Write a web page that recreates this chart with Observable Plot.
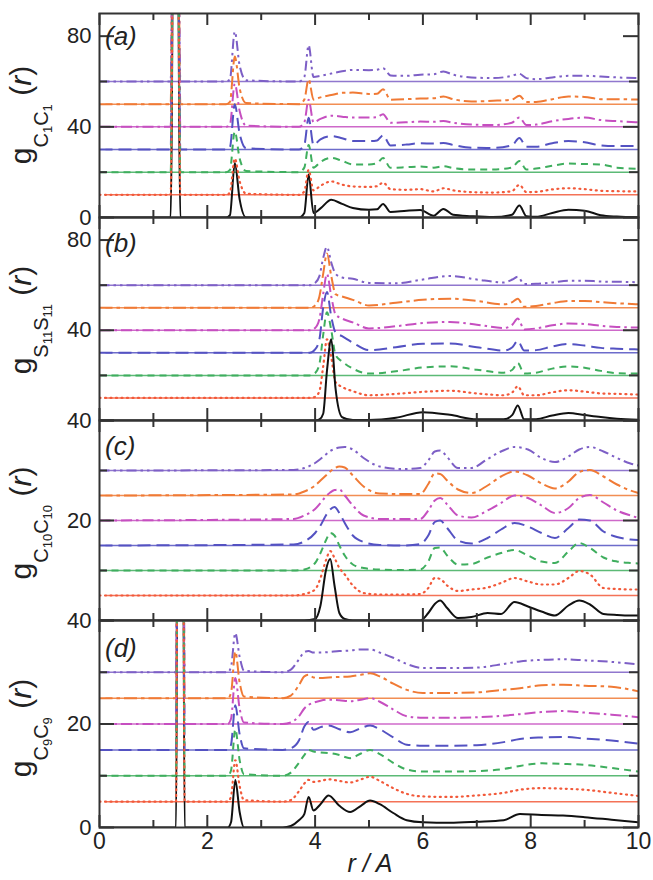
<!DOCTYPE html>
<html><head><meta charset="utf-8">
<script src="https://cdn.jsdelivr.net/npm/d3@7"></script>
<script src="https://cdn.jsdelivr.net/npm/@observablehq/plot@0.6"></script>
<style>
html,body{margin:0;padding:0;background:#fff;}
#chart{position:relative;width:653px;height:880px;overflow:hidden;font-family:"Liberation Sans",Arial,sans-serif;}
#chart svg{position:absolute;left:0;overflow:visible;}
</style></head><body><div id="chart"></div>
<script>
// ---------- data ----------
const xTicksMajor = [0, 2, 4, 6, 8, 10];
const xTicksMinor = [1, 3, 5, 7, 9];
const offsetsAB = [0, 10, 20, 30, 40, 50, 60];
const offsetsCD = [0, 5, 10, 15, 20, 25, 30];

// panel (a) g_C1C1
const rA = [0, 1.25, 1.32, 1.41, 1.5, 1.58, 2.35, 2.42, 2.51, 2.6, 2.72, 3.7, 3.8, 3.88, 3.97, 4.1, 4.3, 4.5, 4.7, 5.0, 5.15, 5.26, 5.4, 5.7, 5.95, 6.2, 6.38, 6.56, 6.9, 7.3, 7.65, 7.79, 7.92, 8.1, 8.4, 8.7, 9.0, 9.3, 9.6, 10];
const gA0 = [0,0,0,300,0,0,0,1,24,8,0,0,2,19,2,4,7.8,6,4.2,3.4,3.6,6,2.4,3,3.3,0.8,3.8,1.2,0.6,0.2,1.2,5.3,0.6,0.3,2,3.4,3,1,0.4,0.1];
const gA1 = [0,0,0,300,0,0,0,1,16,6,0.5,0,1.5,11,2,4,5.9,4.5,3.7,3.5,3.8,5.4,2.5,2.2,2.5,1.5,2.9,2,1.2,1,1.6,4.4,1.2,1.3,2.4,2.9,2.5,1.8,1.6,1.5];
const gA2 = [0,0,0,300,0,0,0,1,18,6,0.5,0,2,12,2,4.5,6.3,5,3.4,3.4,4,6.3,1.9,2.2,2.5,2,2.6,1.8,1.2,1.2,2,4.9,1.2,1.6,2.8,3.8,3.6,3.4,2,1.5];
const gA3 = [0,0,0,300,0,0,0,1,20,7,0.5,0,2,14,2,4.5,5.9,5,3.7,3.7,4,6.2,1.8,2.2,2.8,2.6,2.9,2,0.8,0.7,1.8,5.1,1.2,1.2,2.8,3.7,3.2,1.8,1.5,1.5];
const gA4 = [0,0,0,300,0,0,0,1,19,7,0.5,0,2,12,2,3.5,4.9,4.5,4.1,4.1,4.3,5.6,1.8,2,2.3,2.2,2.6,1.8,1,0.8,1.8,4.1,0.8,1,2.5,3.5,4.1,3,2.5,2];
const gA5 = [0,0,0,300,0,0,0,1,21,7,0.5,0,2,11,2,3,4,5,5.1,4.5,4.6,6.6,2,2.2,2.5,2.6,3.4,2.2,1.2,1.5,2,3.7,1,1,2.2,3.4,3.2,2.2,2.2,2];
const gA6 = [0,0,0,300,0,0,0,1,22,7,0.5,0,2,16,2,2.5,3.5,4.5,5.1,5,5.2,5.9,2.7,2.5,3,3.2,4.4,3,1.8,1.5,2.5,3.4,1.5,1,1.8,2.5,2.5,2.2,1.8,1.5];

// panel (b) g_S11S11
const rB = [0, 3.9, 4.0, 4.08, 4.15, 4.22, 4.3, 4.38, 4.5, 4.7, 5.0, 5.5, 6.0, 6.5, 7.0, 7.5, 7.66, 7.76, 7.88, 8.1, 8.4, 8.7, 9.0, 9.3, 9.6, 10];
const gB0 = [0,0,0,0.5,3,22,36,14,1.5,0.2,0.2,1.2,3.7,2.5,0.5,0.5,2.5,6.7,0.5,0.6,2.2,3.3,2.4,1.5,0.8,0.3];
const gB1 = [0,0,0.5,3,14,26,18,7,4.9,3,1.2,1.8,2.7,3.2,2,1.2,2.5,5.2,1.2,1.2,2.5,3.4,2.8,2,1.8,1.5];
const gB2 = [0,0,1,5,18,28,20,9,6.2,3,0.8,1.8,3.5,4,2.5,1.2,2.5,5.5,0.8,1.2,3,4,3.4,2,1,0.8];
const gB3 = [0,0,1.5,6,20,27,16,9,7.4,4.5,1.2,2.5,4,4.1,2.5,1,2.5,5.3,1,1.2,2.8,3.9,3.2,2.2,1.8,1.5];
const gB4 = [0,0,1,5,16,25,15,7,5.2,3.5,0.8,1.8,3.2,3.7,2.5,1,2.5,5.2,0.4,0.8,2.2,3,2.8,2,1.5,1.2];
const gB5 = [0,0,1,5,15,24,14,6,5,3.5,1,2.2,3.5,4,3,1.5,2.5,4,0.4,0.8,2,3,3,2.5,2,1.5];
const gB6 = [0,0,1,4,12,17,10,5,3.4,2.8,1,0.8,2.5,4.1,2.5,1.2,2.5,3.7,0.5,0.6,1.2,2,2,1.6,1.5,1.3];

// panel (c) g_C10C10
const rC = [0, 3.6, 3.8, 4.0, 4.1, 4.2, 4.28, 4.36, 4.45, 4.55, 4.7, 4.9, 5.2, 5.6, 5.95, 6.1, 6.22, 6.32, 6.45, 6.65, 6.9, 7.2, 7.45, 7.7, 7.95, 8.2, 8.45, 8.7, 8.9, 9.1, 9.35, 9.6, 9.85, 10];
const gC0 = [0,0,0,0.3,3,10,12.3,7,1.5,0.3,0,0,0,0,0,1.5,3.3,4,2.5,0.5,0.7,1.5,1.3,3.7,2.8,1.8,1,3,4,3.2,1.3,1.1,1,1];
const gC1 = [0,0,0.3,1.2,3.5,7,8.9,7.5,5.5,4.2,2,0.5,0.2,0.2,0.3,1.5,3.5,3.3,2,0.9,1.2,1.6,2.5,3.5,2.8,2.2,2.2,3.5,4.9,4.2,1.5,1.3,1.2,1.2];
const gC2 = [0,0,0.2,1.5,3.5,6,7.5,7,5,3,1.2,0.5,0.2,0.1,0.2,1.8,4.5,4.6,3,1.2,1.3,2.6,3.5,4.1,3,1.8,1.5,3.8,5.5,4.5,2.6,1.8,1.5,1.4];
const gC3 = [0,0.2,0.8,2.5,4,6,7.2,7.7,6.5,4.5,2,0.7,0.1,0,0.3,2,4.7,5,3.5,1,0.4,1.5,3.2,4.5,3.8,2.5,1.5,3.5,5.2,5,2.8,1.7,1.2,1.1];
const gC4 = [0,0.3,1,2.3,3.5,4.8,5.6,6.1,6.2,5,3,1,0.3,0.3,0.3,2,4,4.5,3.2,1,0.6,2,3.5,5,4.5,3,1.5,2.5,4.5,5.1,3.6,2,1,0.5];
const gC5 = [0,0.2,0.8,2,3,4,4.8,5.4,5.8,5.6,4,1.8,0.4,0.3,0.3,2.3,4.4,4.3,3,1.2,0.5,2,3.8,4.8,4,2.4,1.4,2.8,4.7,5.1,3.8,2.2,1,0.5];
const gC6 = [0,0.1,0.5,1.5,2.3,3.2,3.9,4.3,4.6,4.7,4.2,2.5,0.8,0.3,0.5,2,3.8,4,2.7,0.5,0.5,2.3,3.8,4.7,4.2,2.5,1.7,2.8,4.2,4.7,3.8,2.5,1.4,1];

// panel (d) g_C9C9
const rD = [0, 1.35, 1.42, 1.5, 1.58, 1.65, 2.38, 2.44, 2.52, 2.6, 2.68, 3.4, 3.55, 3.7, 3.8, 3.88, 3.97, 4.1, 4.25, 4.45, 4.65, 4.85, 5.02, 5.2, 5.45, 5.7, 6.0, 6.5, 7.0, 7.5, 7.8, 8.2, 8.6, 9.0, 9.5, 10];
const gD0 = [0,0,0,300,0,0,0,1,9.2,3,0,0,0.3,1.4,2.6,5.9,3.3,4.5,6.2,4.2,3,4.2,5.2,4.5,2.8,1.4,1,0.9,1.1,1.4,2.6,2.4,2.3,2,1.5,1];
const gD1 = [0,0,0,300,0,0,0,1,8,3,0.3,0,0.3,2,3.5,4.2,3.8,4,4.3,4,3.7,4.3,4.8,4,2.6,1.5,1,0.9,1.2,1.7,2.3,2.6,2.5,2.3,1.7,1.1];
const gD2 = [0,0,0,300,0,0,0,1,9,3,0.3,0,0.6,2.5,4,5,4.7,4.5,4.4,4,3.4,4.3,5,4.2,2.5,1.2,0.8,0.8,0.9,1.3,1.9,2.4,2.3,2.1,1.5,0.8];
const gD3 = [0,0,0,300,0,0,0,1,8.6,3,0.3,0,0.3,1.8,4.5,5.4,3.9,4.4,4.7,4,3.4,4.2,4.7,4,2.4,1,0.8,0.8,0.9,1.5,2.1,2.4,2.5,2.2,1.8,1.2];
const gD4 = [0,0,0,300,0,0,0,1,8.9,3,0.3,0,0.3,1.5,3,3.7,4.1,4.5,4.7,4.6,4.4,4.7,5,4.3,2.8,1.5,1.2,1.2,1.3,1.6,1.9,2.3,2.5,2.2,1.8,1.3];
const gD5 = [0,0,0,300,0,0,0,1,9,3,0.3,0,0.5,2.5,4.2,4.5,4,3.9,4,4.1,4.2,4.5,4.8,4.2,2.8,1.6,1,1,1.1,1.6,1.9,2.5,2.6,2.4,2.2,1.3];
const gD6 = [0,0,0,300,0,0,0,1,7.6,3,0.3,0,0.5,2.5,3.9,4.1,3.8,3.8,3.9,4.1,4.2,4.4,4.4,3.8,2.8,1.6,0.8,0.8,0.9,1.6,2.1,2.4,2.5,2.3,2,1.5];

// ---------- styles ----------
const colors = ["#111111", "#f2593a", "#3fae5e", "#5452c2", "#c64fc0", "#f07a35", "#7d5fc6"];
const dashes = [null, "1,4.5", "7,5", "13,6", "11,4,2.5,4", "13,4,3.5,4", "10,4,2.5,4,2.5,4"];
const widths = [2, 2.2, 2, 2, 2, 2, 2];
const FONT = '"Liberation Sans", Arial, Helvetica, sans-serif';
const AX = "#333";

const panels = [
  {r: rA, gs: [gA0,gA1,gA2,gA3,gA4,gA5,gA6], off: offsetsAB, top: 13, bottom: 217, ymax: 90, labels: [0,40,80], major: [0,40,80], minor: [20,60], xl: false, blackFirst: true},
  {r: rB, gs: [gB0,gB1,gB2,gB3,gB4,gB5,gB6], off: offsetsAB, top: 217, bottom: 420, ymax: 90, labels: [40,80], major: [0,40,80], minor: [20,60], xl: false, blackFirst: false},
  {r: rC, gs: [gC0,gC1,gC2,gC3,gC4,gC5,gC6], off: offsetsCD, top: 420, bottom: 620, ymax: 40, labels: [20,40], major: [0,20,40], minor: [10,30], xl: false, blackFirst: false},
  {r: rD, gs: [gD0,gD1,gD2,gD3,gD4,gD5,gD6], off: offsetsCD, top: 620, bottom: 827, ymax: 40, labels: [0,20,40], major: [0,20,40], minor: [10,30], xl: true, blackFirst: true}
];

const chart = document.getElementById("chart");
const W = 653, ML = 99, MR = 15, innerW = W - ML - MR;

panels.forEach(p => {
  const mt = 15, mb = p.xl ? 50 : 15;
  const innerH = p.bottom - p.top;
  const marks = [];
  // baselines
  for (let i = 1; i < 7; i++) {
    marks.push(Plot.ruleY([p.off[i]], {x1: 0.12, x2: 10, stroke: colors[i], strokeWidth: 1.5, strokeOpacity: 0.85}));
  }
  const order = p.blackFirst ? [0, 6, 5, 4, 3, 2, 1] : [6, 5, 4, 3, 2, 1, 0];
  for (const i of order) {
    const rows = p.r.map((r, k) => ({r, g: p.gs[i][k] + p.off[i]}));
    marks.push(Plot.line(rows, {
      x: "r", y: "g", stroke: colors[i], strokeWidth: widths[i],
      strokeDasharray: dashes[i] || undefined, strokeLinecap: i === 1 ? "round" : "butt",
      curve: "monotone-x", clip: true
    }));
  }
  // ticks (inward, on all four sides)
  marks.push(Plot.tickX(xTicksMajor, {x: d => d, insetTop: innerH - 12, stroke: AX, strokeWidth: 2}));
  marks.push(Plot.tickX(xTicksMajor, {x: d => d, insetBottom: innerH - 12, stroke: AX, strokeWidth: 2}));
  marks.push(Plot.tickX(xTicksMinor, {x: d => d, insetTop: innerH - 7, stroke: AX, strokeWidth: 2}));
  marks.push(Plot.tickX(xTicksMinor, {x: d => d, insetBottom: innerH - 7, stroke: AX, strokeWidth: 2}));
  marks.push(Plot.tickY(p.major, {y: d => d, insetRight: innerW - 15, stroke: AX, strokeWidth: 2}));
  marks.push(Plot.tickY(p.major, {y: d => d, insetLeft: innerW - 15, stroke: AX, strokeWidth: 2}));
  marks.push(Plot.tickY(p.minor, {y: d => d, insetRight: innerW - 8, stroke: AX, strokeWidth: 2}));
  marks.push(Plot.tickY(p.minor, {y: d => d, insetLeft: innerW - 9, stroke: AX, strokeWidth: 2}));
  marks.push(Plot.frame({stroke: AX, strokeWidth: 2}));
  // tick labels
  marks.push(Plot.text(p.labels, {y: d => d, text: d => String(d), frameAnchor: "left", textAnchor: "end", dx: -8, fontSize: 22, fill: "#222"}));
  if (p.xl) {
    marks.push(Plot.text(xTicksMajor, {x: d => d, text: d => String(d), frameAnchor: "bottom", lineAnchor: "top", dy: 5, fontSize: 23, fill: "#222"}));
  }
  const svg = Plot.plot({
    width: W, height: innerH + mt + mb,
    marginLeft: ML, marginRight: MR, marginTop: mt, marginBottom: mb,
    x: {domain: [0, 10], axis: null},
    y: {domain: [0, p.ymax], axis: null},
    style: {background: "transparent", fontFamily: FONT, overflow: "visible"},
    marks
  });
  svg.style.top = (p.top - mt) + "px";
  chart.appendChild(svg);
});

// ---------- overlay text: panel letters, axis titles ----------
const ov = d3.select(chart).append("svg")
  .attr("width", W).attr("height", 880)
  .style("top", "0px").style("pointer-events", "none")
  .style("font-family", FONT);

const letters = [["(a)", 45], ["(b)", 252], ["(c)", 455], ["(d)", 657]];
letters.forEach(([t, y]) => {
  ov.append("text").attr("x", 105).attr("y", y).attr("font-size", 26)
    .attr("font-style", "italic").attr("fill", "#222").text(t);
});

const yTitles = [["C", "1", 115], ["S", "11", 320], ["C", "10", 523], ["C", "9", 728]];
yTitles.forEach(([a, n, cy]) => {
  const t = ov.append("text")
    .attr("transform", `translate(31,${cy}) rotate(-90)`)
    .attr("text-anchor", "middle").attr("font-size", 30).attr("fill", "#222");
  t.append("tspan").text("g");
  t.append("tspan").attr("font-size", 20).attr("dy", 17).text(a);
  t.append("tspan").attr("font-size", 13).attr("dy", 4).text(n);
  t.append("tspan").attr("font-size", 20).attr("dy", -4).text(a);
  t.append("tspan").attr("font-size", 13).attr("dy", 4).text(n);
  t.append("tspan").attr("dy", -21).text(" (");
  t.append("tspan").attr("font-style", "italic").text("r");
  t.append("tspan").text(")");
});

ov.append("text").attr("x", 370).attr("y", 872).attr("text-anchor", "middle")
  .attr("font-size", 25).attr("font-style", "italic").attr("fill", "#222").text("r / A");
</script>
</body></html>
